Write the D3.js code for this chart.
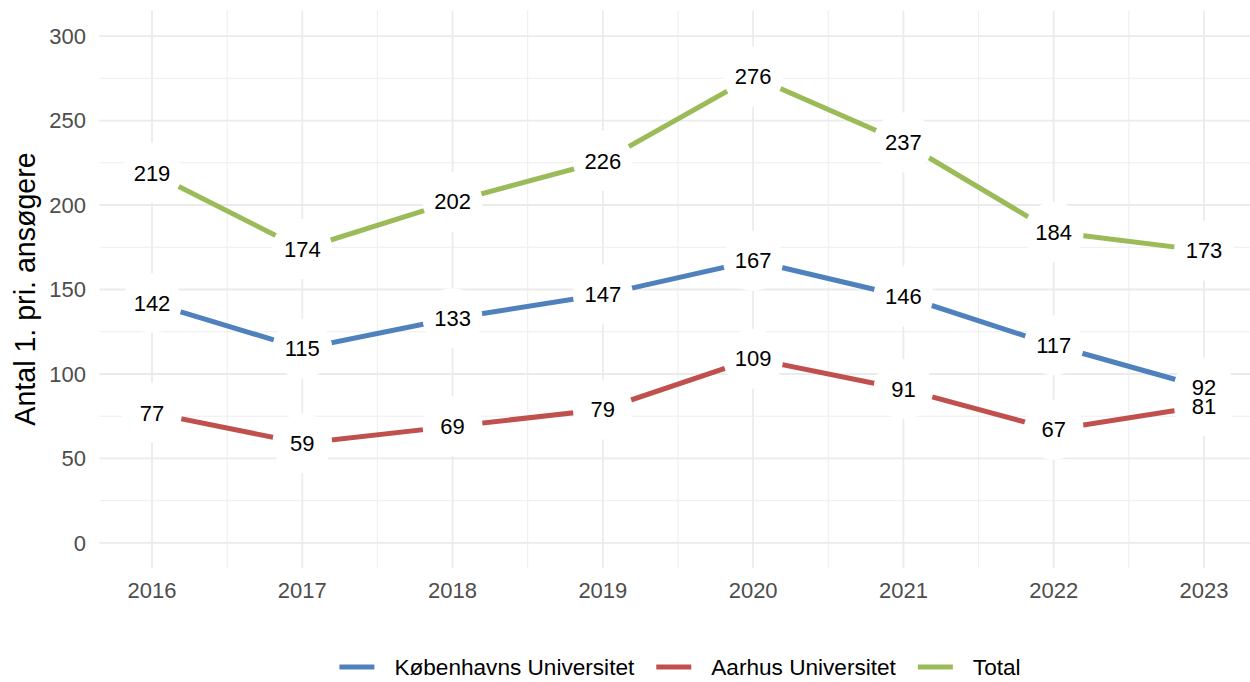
<!DOCTYPE html>
<html>
<head>
<meta charset="utf-8">
<script src="https://cdn.jsdelivr.net/npm/d3@7"></script>
<style>
  body { margin: 0; background: #fff; }
  text { font-family: "Liberation Sans", Arial, sans-serif; }
</style>
</head>
<body>
<svg width="1250" height="682"></svg>
<script>
// data
var years = [2016, 2017, 2018, 2019, 2020, 2021, 2022, 2023];
var ku = [142, 115, 133, 147, 167, 146, 117, 92];
var au = [77, 59, 69, 79, 109, 91, 67, 81];
var total = [219, 174, 202, 226, 276, 237, 184, 173];
var seriesNames = ["Københavns Universitet", "Aarhus Universitet", "Total"];
var seriesColors = ["#4f81bd", "#c0504d", "#9bbb59"];
var yTicks = [0, 50, 100, 150, 200, 250, 300];

var series = [ku, au, total].map(function(v, i) {
    return { name: seriesNames[i], color: seriesColors[i], values: v };
});

var svg = d3.select("svg");

// panel (ggplot style 5% expansion)
var x = d3.scaleLinear().domain([2016 - 0.35, 2023 + 0.35]).range([99.4, 1256.6]);
var y = d3.scaleLinear().domain([-15, 315]).range([568.3, 10.7]);

var grid = svg.append("g");

// minor grid (only inside the panel)
var xMinor = d3.range(2016.5, 2023, 1);
var yMinor = d3.range(25, 300, 50);
grid.selectAll(".vminor").data(xMinor).enter().append("line")
    .attr("x1", function(d) { return x(d); }).attr("x2", function(d) { return x(d); })
    .attr("y1", y.range()[0]).attr("y2", y.range()[1])
    .attr("stroke", "#ededed").attr("stroke-width", 1);
grid.selectAll(".hminor").data(yMinor).enter().append("line")
    .attr("x1", x.range()[0]).attr("x2", x.range()[1])
    .attr("y1", function(d) { return y(d); }).attr("y2", function(d) { return y(d); })
    .attr("stroke", "#ededed").attr("stroke-width", 1);

// major grid
grid.selectAll(".vmajor").data(years).enter().append("line")
    .attr("x1", function(d) { return x(d); }).attr("x2", function(d) { return x(d); })
    .attr("y1", y.range()[0]).attr("y2", y.range()[1])
    .attr("stroke", "#ebebeb").attr("stroke-width", 1.8);
grid.selectAll(".hmajor").data(yTicks).enter().append("line")
    .attr("x1", x.range()[0]).attr("x2", x.range()[1])
    .attr("y1", function(d) { return y(d); }).attr("y2", function(d) { return y(d); })
    .attr("stroke", "#ebebeb").attr("stroke-width", 1.8);

// axis tick labels
svg.append("g").selectAll("text").data(yTicks).enter().append("text")
    .attr("x", 86).attr("y", function(d) { return y(d); })
    .attr("dy", "0.35em").attr("text-anchor", "end")
    .attr("font-size", 22).attr("fill", "#4d4d4d")
    .text(function(d) { return d; });

svg.append("g").selectAll("text").data(years).enter().append("text")
    .attr("x", function(d) { return x(d); }).attr("y", 590)
    .attr("dy", "0.35em").attr("text-anchor", "middle")
    .attr("font-size", 22).attr("fill", "#4d4d4d")
    .text(function(d) { return d; });

svg.append("text")
    .attr("transform", "translate(35,289) rotate(-90)")
    .attr("text-anchor", "middle").attr("font-size", 28.6).attr("fill", "#000")
    .text("Antal 1. pri. ansøgere");

// lines
var line = d3.line()
    .x(function(d, i) { return x(years[i]); })
    .y(function(d) { return y(d); });

svg.append("g").selectAll("path").data(series).enter().append("path")
    .attr("d", function(s) { return line(s.values); })
    .attr("fill", "none")
    .attr("stroke", function(s) { return s.color; })
    .attr("stroke-width", 5);

// white label backgrounds
var pts = [];
series.forEach(function(s) {
    s.values.forEach(function(v, i) { pts.push({ year: years[i], value: v }); });
});

svg.append("g").selectAll("circle").data(pts).enter().append("circle")
    .attr("cx", function(d) { return x(d.year); })
    .attr("cy", function(d) { return y(d.value); })
    .attr("r", 30).attr("fill", "#fff");

svg.append("g").selectAll("text").data(pts).enter().append("text")
    .attr("x", function(d) { return x(d.year); })
    .attr("y", function(d) { return y(d.value); })
    .attr("dy", "0.35em").attr("text-anchor", "middle")
    .attr("font-size", 22).attr("fill", "#000")
    .text(function(d) { return d.value; });

// legend
var legend = svg.append("g");
var lx = 0;
series.forEach(function(s) {
    var g = legend.append("g");
    g.append("line").attr("x1", 0).attr("x2", 35).attr("y1", 0).attr("y2", 0)
        .attr("stroke", s.color).attr("stroke-width", 5);
    var t = g.append("text").attr("x", 55).attr("y", 0).attr("dy", "0.35em")
        .attr("font-size", 22.6).attr("fill", "#000").text(s.name);
    var w = 55 + t.node().getComputedTextLength();
    g.attr("transform", "translate(" + lx + ",0)");
    lx += w + 22;
});
var legendW = lx - 22;
legend.attr("transform", "translate(" + (680 - legendW / 2) + ",667)");
</script>
</body>
</html>
